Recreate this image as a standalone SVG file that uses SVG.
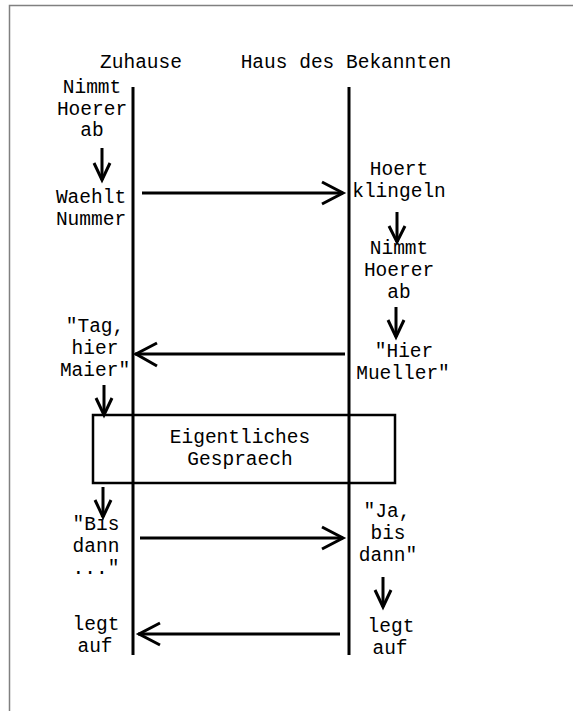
<svg xmlns="http://www.w3.org/2000/svg" width="574" height="711" viewBox="0 0 574 711">
<style>
text{font-family:"Liberation Mono","Courier New",monospace;font-size:19.5px;fill:#000;text-anchor:middle}
.life{stroke:#000;stroke-width:3;fill:none}
.msg{stroke:#000;stroke-width:3;fill:none}
.head{stroke:#000;stroke-width:3;fill:none;stroke-linecap:butt}
.box{stroke:#000;stroke-width:2.5;fill:none}
</style>
<rect width="574" height="711" fill="#fff"/>
<path d="M9.5,711 V5.5 H573" stroke="#808080" stroke-width="1.5" fill="none"/>
<g id="lifelines">
<line class="life" x1="133" y1="87" x2="133" y2="655"/>
<line class="life" x1="349" y1="87" x2="349" y2="655"/>
</g>
<g id="header-zuhause"><text x="141" y="68">Zuhause</text></g>
<g id="header-bekannten"><text x="346" y="68">Haus des Bekannten</text></g>
<g id="n1"><text x="92" y="93">Nimmt</text><text x="92" y="115">Hoerer</text><text x="92" y="136">ab</text></g>
<g id="n2"><text x="91" y="203">Waehlt</text><text x="91" y="225">Nummer</text></g>
<g id="n3"><text x="399" y="175">Hoert</text><text x="399" y="197">klingeln</text></g>
<g id="n4"><text x="399" y="254">Nimmt</text><text x="399" y="276">Hoerer</text><text x="399" y="298">ab</text></g>
<g id="n5"><text x="404" y="357">"Hier</text><text x="403" y="379">Mueller"</text></g>
<g id="n6"><text x="95" y="332">"Tag,</text><text x="95" y="354">hier</text><text x="95" y="376">Maier"</text></g>
<g id="n7"><rect class="box" x="93" y="415" width="302" height="68"/><text x="240" y="443">Eigentliches</text><text x="240" y="465">Gespraech</text></g>
<g id="n8"><text x="96" y="530">"Bis</text><text x="96" y="552">dann</text><text x="96" y="574">..."</text></g>
<g id="n9"><text x="387" y="517">"Ja,</text><text x="388" y="539">bis</text><text x="388" y="561">dann"</text></g>
<g id="n10"><text x="96" y="630">legt</text><text x="95" y="652">auf</text></g>
<g id="n11"><text x="391" y="632">legt</text><text x="390" y="654">auf</text></g>
<g id="connectors">
<line class="msg" x1="102" y1="148" x2="102" y2="180"/><polyline class="head" points="94,163 102,180 110,163"/>
<line class="msg" x1="142" y1="193" x2="343" y2="193"/><polyline class="head" points="322,182 343,193 322,204"/>
<line class="msg" x1="397" y1="212" x2="397" y2="242"/><polyline class="head" points="389,226 397,242 405,226"/>
<line class="msg" x1="396" y1="307" x2="396" y2="337"/><polyline class="head" points="388,320 396,337 404,320"/>
<line class="msg" x1="345" y1="354" x2="135" y2="354"/><polyline class="head" points="157,343 136,354 157,366"/>
<line class="msg" x1="104" y1="385" x2="104" y2="415"/><polyline class="head" points="96,398 104,415 112,398"/>
<line class="msg" x1="103" y1="487" x2="103" y2="517"/><polyline class="head" points="95,500 103,517 111,500"/>
<line class="msg" x1="140" y1="538" x2="343" y2="538"/><polyline class="head" points="322,527 343,538 322,549"/>
<line class="msg" x1="383" y1="577" x2="383" y2="607"/><polyline class="head" points="375,590 383,607 391,590"/>
<line class="msg" x1="340" y1="634" x2="138" y2="634"/><polyline class="head" points="160,623 139,634 160,645"/>
</g>
</svg>
